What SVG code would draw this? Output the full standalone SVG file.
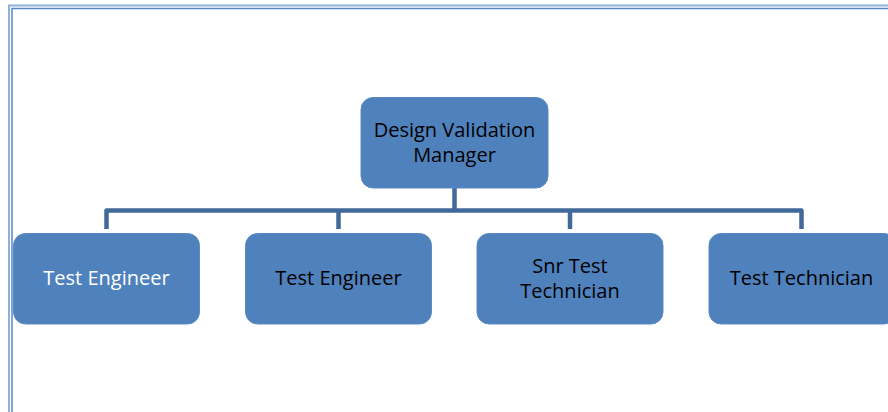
<svg xmlns="http://www.w3.org/2000/svg" width="888" height="412" viewBox="0 0 888 412">
<style>
.node{fill:#4f81bd;stroke:#5b8ac6;stroke-width:1}
.t{font-family:"Open Sans","Liberation Sans",sans-serif;font-size:20px;text-anchor:middle;fill:#000}
.tw{fill:#fff}
.conn{fill:none;stroke:#41699a;stroke-width:4.5;stroke-linejoin:round}
</style>
<rect width="888" height="412" fill="#fff"/>
<g id="border">
<rect x="9" y="5.5" width="900" height="420" fill="none" stroke="#8fb0da" stroke-width="2"/>
<rect x="12" y="8.5" width="900" height="420" fill="none" stroke="#5a86c2" stroke-width="1.5"/>
</g>
<g id="connectors">
<path class="conn" d="M454.5 188 V210.5"/>
<path class="conn" d="M106.5 229 V210.5 H801.5 V229"/>
<path class="conn" d="M338.5 210.5 V229"/>
<path class="conn" d="M570 210.5 V229"/>
</g>
<g id="manager">
<rect class="node" x="361" y="97.5" width="187" height="90.5" rx="12"/>
<text class="t" x="454.5" y="137">Design Validation</text>
<text class="t" x="454.5" y="162">Manager</text>
</g>
<g id="test-engineer-1">
<rect class="node" x="13.5" y="233.5" width="186" height="90.5" rx="12"/>
<text class="t tw" x="106.5" y="284.5">Test Engineer</text>
</g>
<g id="test-engineer-2">
<rect class="node" x="245.5" y="233.5" width="186" height="90.5" rx="12"/>
<text class="t" x="338.5" y="284.5">Test Engineer</text>
</g>
<g id="snr-test-technician">
<rect class="node" x="477" y="233.5" width="186" height="90.5" rx="12"/>
<text class="t" x="570" y="273">Snr Test</text>
<text class="t" x="570" y="298">Technician</text>
</g>
<g id="test-technician">
<rect class="node" x="709" y="233.5" width="187" height="90.5" rx="12"/>
<text class="t" x="801.5" y="284.5">Test Technician</text>
</g>
</svg>
